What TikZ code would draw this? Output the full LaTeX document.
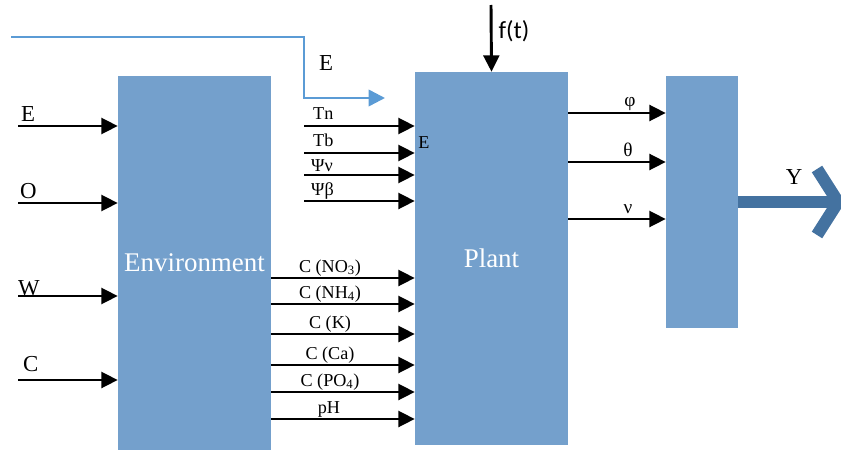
\documentclass[tikz,border=0pt]{standalone}
\usepackage{fontspec}
\setmainfont{Liberation Serif}
\newfontfamily\calfont{Carlito}
\usepackage{xcolor}
\usepackage{tikz}
\usetikzlibrary{arrows.meta, positioning}
\definecolor{boxblue}{RGB}{116,160,204}
\definecolor{lineblue}{RGB}{91,155,213}
\definecolor{outblue}{RGB}{68,114,160}

\begin{document}
\begin{tikzpicture}[
          x=0.03cm, y=-0.03cm,
          box/.style={draw=none, fill=boxblue, text=white, inner sep=0pt, font=\fontsize{23}{27}\selectfont},
          arr/.style={line width=2.5pt, -{Triangle[length=14pt, width=13.5pt]}},
          big/.style={inner sep=0pt, font=\fontsize{19.5}{23}\selectfont},
          small/.style={inner sep=0pt, font=\fontsize{15.5}{18}\selectfont},
          greek/.style={inner sep=0pt, font=\fontsize{16.5}{19}\selectfont}
        ]
          \useasboundingbox (0,0) rectangle (841,450);
          % blocks
          \node[box, minimum width=4.59cm, minimum height=11.22cm] (env) at (194.5,263) {Environment};
          \node[box, minimum width=4.59cm, minimum height=11.19cm] (plant) at (491.5,258.5) {Plant};
          \node[box, minimum width=2.16cm, minimum height=7.56cm] (out) at (702,202) {};

          % inputs of the environment
          \coordinate (inE) at (18,126);
          \coordinate (inO) at (18,203);
          \coordinate (inW) at (18,296);
          \coordinate (inC) at (18,380);
          \draw[arr] (inE) -- (inE -| env.west);
          \draw[arr] (inO) -- (inO -| env.west);
          \draw[arr] (inW) -- (inW -| env.west);
          \draw[arr] (inC) -- (inC -| env.west);
          \node[big, anchor=base west] (lE) at (21,121) {E};
          \node[big, anchor=base west] (lO) at (20,198) {O};
          \node[big, anchor=base west] (lW) at (18,295) {W};
          \node[big, anchor=base west] (lC) at (23,371) {C};

          % light line
          \coordinate (eSrc) at (11,37);
          \coordinate (eTip) at (385,98);
          \draw[lineblue, line width=2.2pt, -{Triangle[length=14pt, width=14pt]}]
            (eSrc) -- (304,37) -- (304,98) -- (eTip);
          \node[big] (lEl) at (326,63) {E};

          % disturbance
          \coordinate (fSrc) at (491,5);
          \draw[arr] (fSrc) -- (plant.north);
          \node[inner sep=0pt, font=\calfont\fontsize{21}{24}\selectfont] (lf) at (514,31) {f(t)};

          % climate inputs of the plant
          \coordinate (inTn) at (304,126);
          \coordinate (inTb) at (304,153);
          \coordinate (inPv) at (304,175);
          \coordinate (inPb) at (304,201);
          \draw[arr] (inTn) -- (inTn -| plant.west);
          \draw[arr] (inTb) -- (inTb -| plant.west);
          \draw[arr] (inPv) -- (inPv -| plant.west);
          \draw[arr] (inPb) -- (inPb -| plant.west);
          \node[small, anchor=base west] (lTn) at (313,119) {Tn};
          \node[small, anchor=base west] (lTb) at (313,146) {Tb};
          \node[small, anchor=base west] (lPv) at (311,171) {Ψν};
          \node[small, anchor=base west] (lPb) at (311,195) {Ψβ};
          \node[small] (lEp) at (424,143) {E};

          % root zone
          \draw[arr] (env.east |- 0,278) -- (plant.west |- 0,278);
          \draw[arr] (env.east |- 0,304) -- (plant.west |- 0,304);
          \draw[arr] (env.east |- 0,334) -- (plant.west |- 0,334);
          \draw[arr] (env.east |- 0,365) -- (plant.west |- 0,365);
          \draw[arr] (env.east |- 0,392) -- (plant.west |- 0,392);
          \draw[arr] (env.east |- 0,419) -- (plant.west |- 0,419);
          \node[small, anchor=base] (lNO) at (330,272) {C (NO\textsubscript{3})};
          \node[small, anchor=base] (lNH) at (330,298) {C (NH\textsubscript{4})};
          \node[small, anchor=base] (lK) at (330,328) {C (K)};
          \node[small, anchor=base] (lCa) at (330,359) {C (Ca)};
          \node[small, anchor=base] (lPO) at (330,386) {C (PO\textsubscript{4})};
          \node[small, anchor=base] (lpH) at (329,413) {pH};

          % plant outputs
          \draw[arr] (plant.east |- 0,113) -- (out.west |- 0,113);
          \draw[arr] (plant.east |- 0,162) -- (out.west |- 0,162);
          \draw[arr] (plant.east |- 0,219) -- (out.west |- 0,219);
          \node[greek, anchor=base] (lphi) at (630,107) {φ};
          \node[greek, anchor=base] (ltheta) at (628,156) {θ};
          \node[greek, anchor=base] (lnu) at (628,213) {ν};

          % yield
          \coordinate (yTip) at (838,202);
          \draw[outblue, line width=11pt] (out.east) -- (yTip);
          \draw[outblue, line width=10.5pt, miter limit=4] (817,169) -- (yTip) -- (817,235);
          \node[big] (lY) at (794,177) {Y};
        \end{tikzpicture}
\end{document}
